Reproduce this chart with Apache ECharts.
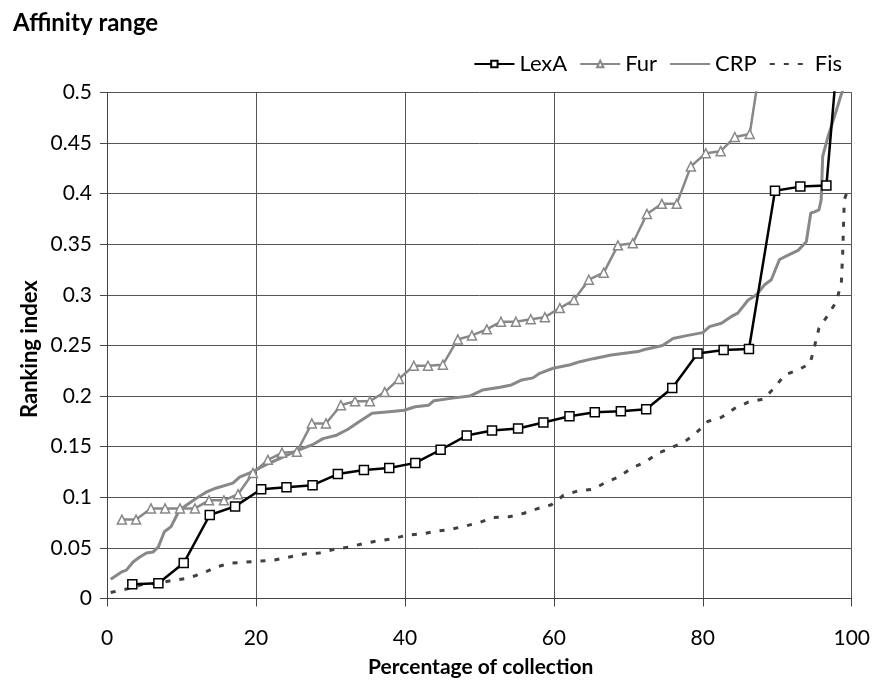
<html style="height: 100%">
<meta http-equiv=Content-Type content="text/html;charset=utf-8" />
<script type="text/javascript" src="https://cdn.jsdelivr.net/npm/echarts@6/dist/echarts.min.js"></script>
<body style="height: 100%; margin: 0; background: #fff">
<div id="echart" style="width: 873px; height: 685px"></div>
<script type="text/javascript">

	// values
	var lexaX = [3.4, 6.9, 10.3, 13.8, 17.2, 20.7, 24.1, 27.6, 31.0, 34.5, 37.9, 41.4, 44.8, 48.3, 51.7,
		55.2, 58.6, 62.1, 65.5, 69.0, 72.4, 75.9, 79.3, 82.8, 86.2, 89.7, 93.1, 96.6, 100];
	var lexaY = [0.014, 0.015, 0.035, 0.0825, 0.091, 0.108, 0.110, 0.112, 0.123, 0.127, 0.129, 0.134, 0.147, 0.161, 0.166,
		0.168, 0.174, 0.180, 0.184, 0.185, 0.187, 0.208, 0.242, 0.2455, 0.2465, 0.403, 0.407, 0.408, 0.70];

	var furX = [2.0, 3.9, 5.9, 7.8, 9.8, 11.8, 13.7, 15.7, 17.6, 19.6, 21.6, 23.5, 25.5, 27.5, 29.4,
		31.4, 33.3, 35.3, 37.3, 39.2, 41.2, 43.1, 45.1, 47.1, 49.0, 51.0, 52.9, 54.9, 56.9, 58.8,
		60.8, 62.7, 64.7, 66.7, 68.6, 70.6, 72.5, 74.5, 76.5, 78.4, 80.4, 82.4, 84.3, 86.3, 88.2];
	var furY = [0.078, 0.078, 0.089, 0.089, 0.089, 0.089, 0.097, 0.097, 0.103, 0.124, 0.137, 0.144, 0.145, 0.173, 0.173,
		0.191, 0.195, 0.195, 0.204, 0.217, 0.230, 0.230, 0.231, 0.256, 0.260, 0.266, 0.2735, 0.2735, 0.276, 0.278,
		0.287, 0.295, 0.315, 0.322, 0.349, 0.351, 0.380, 0.390, 0.390, 0.427, 0.440, 0.442, 0.456, 0.459, 0.55];

	var crpX = [0.5, 1.9, 2.6, 3.5, 4.4, 5.3, 6.2, 6.9, 7.7, 8.6, 9.7, 10.6, 12.0, 13.3, 14.6, 16.9, 17.8, 19.1,
		20.0, 21.3, 23.1, 25.8, 27.6, 29.0, 30.7, 32.3, 33.9, 35.6, 37.9, 39.9, 41.4, 43.2, 43.9, 46.4,
		48.7, 50.4, 52.8, 54.3, 55.7, 57.2, 58.1, 59.9, 62.2, 63.5, 65.3, 67.7, 71.3, 72.2, 74.6, 76.0,
		78.0, 80.0, 80.9, 82.5, 83.8, 84.7, 86.1, 87.2, 88.3, 89.2, 90.3, 91.4, 92.8, 93.9, 94.5, 95.0,
		95.6, 95.9, 96.1, 96.8, 98.1, 98.5, 99.0, 100];
	var crpY = [0.019, 0.026, 0.028, 0.036, 0.041, 0.045, 0.046, 0.051, 0.066, 0.071, 0.087, 0.092, 0.099, 0.105, 0.109, 0.114, 0.120, 0.124,
		0.127, 0.132, 0.138, 0.147, 0.152, 0.158, 0.161, 0.167, 0.175, 0.183, 0.1846, 0.186, 0.1895, 0.191, 0.1955, 0.198,
		0.200, 0.206, 0.2087, 0.211, 0.216, 0.218, 0.2225, 0.2275, 0.231, 0.234, 0.237, 0.2406, 0.244, 0.246, 0.250, 0.257,
		0.260, 0.2627, 0.2686, 0.272, 0.2785, 0.282, 0.295, 0.300, 0.310, 0.315, 0.335, 0.339, 0.344, 0.3526, 0.381, 0.382,
		0.384, 0.394, 0.437, 0.456, 0.486, 0.496, 0.506, 0.55];

	var fisX = [0.5, 3.0, 4.8, 6.8, 8.9, 10.8, 12.9, 14.6, 16.7, 18.7, 20.7, 22.5, 24.5, 26.5, 28.5, 30.5,
		32.3, 34.3, 36.3, 38.3, 40.3, 42.2, 44.2, 46.2, 48.1, 50.1, 51.9, 54.0, 56.0, 57.9, 59.7, 61.3,
		63.3, 65.3, 66.9, 68.7, 70.4, 72.2, 74.0, 75.8, 77.6, 79.3, 80.7, 82.5, 84.3, 86.1, 88.1, 89.6,
		91.0, 92.8, 94.4, 95.0, 95.6, 96.8, 97.9, 98.6, 98.8, 99.0, 99.3];
	var fisY = [0.006, 0.010, 0.014, 0.015, 0.018, 0.020, 0.025, 0.031, 0.035, 0.036, 0.037, 0.038, 0.041, 0.044, 0.045, 0.0486,
		0.0506, 0.054, 0.057, 0.0588, 0.0627, 0.0637, 0.0664, 0.0684, 0.0716, 0.0753, 0.080, 0.0808, 0.0842, 0.089, 0.0927, 0.102,
		0.1065, 0.108, 0.1145, 0.120, 0.1287, 0.1346, 0.1435, 0.149, 0.155, 0.165, 0.175, 0.179, 0.188, 0.194, 0.197, 0.208,
		0.221, 0.226, 0.232, 0.249, 0.267, 0.280, 0.293, 0.311, 0.344, 0.394, 0.400];

	var xTicks = [0, 20, 40, 60, 80, 100];
	var yTicks = [0, 0.05, 0.1, 0.15, 0.2, 0.25, 0.3, 0.35, 0.4, 0.45, 0.5];

	function pairs(xs, ys) {
		var out = [];
		for (var i = 0; i < xs.length; i++) {
			out.push([xs[i], ys[i]]);
		}
		return out;
	}

	var font = 'Lato, "Open Sans", sans-serif';
	var myChart = echarts.init(document.getElementById('echart'));

	myChart.setOption({
		animation: false,
		textStyle: { fontFamily: font },
		title: {
			text: 'Affinity range',
			left: 8,
			top: 6,
			textStyle: { fontSize: 24, fontWeight: 'bold', color: '#000', fontFamily: font }
		},
		legend: {
			right: 26,
			top: 48,
			itemWidth: 40,
			itemHeight: 8,
			itemGap: 12,
			textStyle: { fontSize: 22, color: '#000', fontFamily: font },
			data: [
				'LexA',
				'Fur',
				// no marker on these two lines, keep only the stroke in the key
				{ name: 'CRP', itemStyle: { opacity: 0 } },
				{ name: 'Fis', itemStyle: { opacity: 0 } }
			]
		},
		grid: { left: 107, right: 19, top: 92.5, bottom: 86.5 },
		xAxis: {
			type: 'value',
			min: xTicks[0],
			max: xTicks[xTicks.length - 1],
			interval: 20,
			axisLine: { onZero: false, lineStyle: { color: '#444', width: 1 } },
			axisTick: { show: true, length: 8, lineStyle: { color: '#444' } },
			axisLabel: { fontSize: 21, color: '#000', margin: 29, fontFamily: font },
			splitLine: { show: true, lineStyle: { color: '#555', width: 1 } }
		},
		yAxis: {
			type: 'value',
			min: yTicks[0],
			max: yTicks[yTicks.length - 1],
			interval: 0.05,
			axisLine: { show: true, lineStyle: { color: '#444', width: 1 } },
			axisTick: { show: true, length: 7, lineStyle: { color: '#444' } },
			axisLabel: { fontSize: 21, color: '#000', margin: 15, fontFamily: font },
			splitLine: { show: true, lineStyle: { color: '#555', width: 1 } }
		},
		graphic: [
			{
				type: 'text',
				left: 368,
				top: 657,
				style: { text: 'Percentage of collection', font: 'bold 21px ' + font, fill: '#000' }
			},
			{
				type: 'text',
				x: 19,
				y: 418,
				rotation: Math.PI / 2,
				style: { text: 'Ranking index', font: 'bold 22px ' + font, fill: '#000' }
			}
		],
		series: [
			{
				name: 'LexA',
				type: 'line',
				data: pairs(lexaX, lexaY),
				clip: true,
				symbol: 'rect',
				symbolSize: 9,
				z: 5,
				itemStyle: { color: '#fff', borderColor: '#000', borderWidth: 1.5 },
				lineStyle: { color: '#000', width: 2.5 }
			},
			{
				name: 'Fur',
				type: 'line',
				data: pairs(furX, furY),
				clip: true,
				symbol: 'triangle',
				symbolSize: 9,
				z: 4,
				itemStyle: { color: '#fff', borderColor: '#888', borderWidth: 1.5 },
				lineStyle: { color: '#888', width: 2.5 }
			},
			{
				name: 'CRP',
				type: 'line',
				data: pairs(crpX, crpY),
				clip: true,
				showSymbol: false,
				symbol: 'none',
				z: 3,
				itemStyle: { color: '#888' },
				lineStyle: { color: '#888', width: 3 }
			},
			{
				name: 'Fis',
				type: 'line',
				data: pairs(fisX, fisY),
				clip: true,
				showSymbol: false,
				symbol: 'none',
				z: 2,
				itemStyle: { color: '#404040' },
				lineStyle: { color: '#404040', width: 3, type: [5, 9] }
			}
		]
	});

</script>
</body>
</html>
